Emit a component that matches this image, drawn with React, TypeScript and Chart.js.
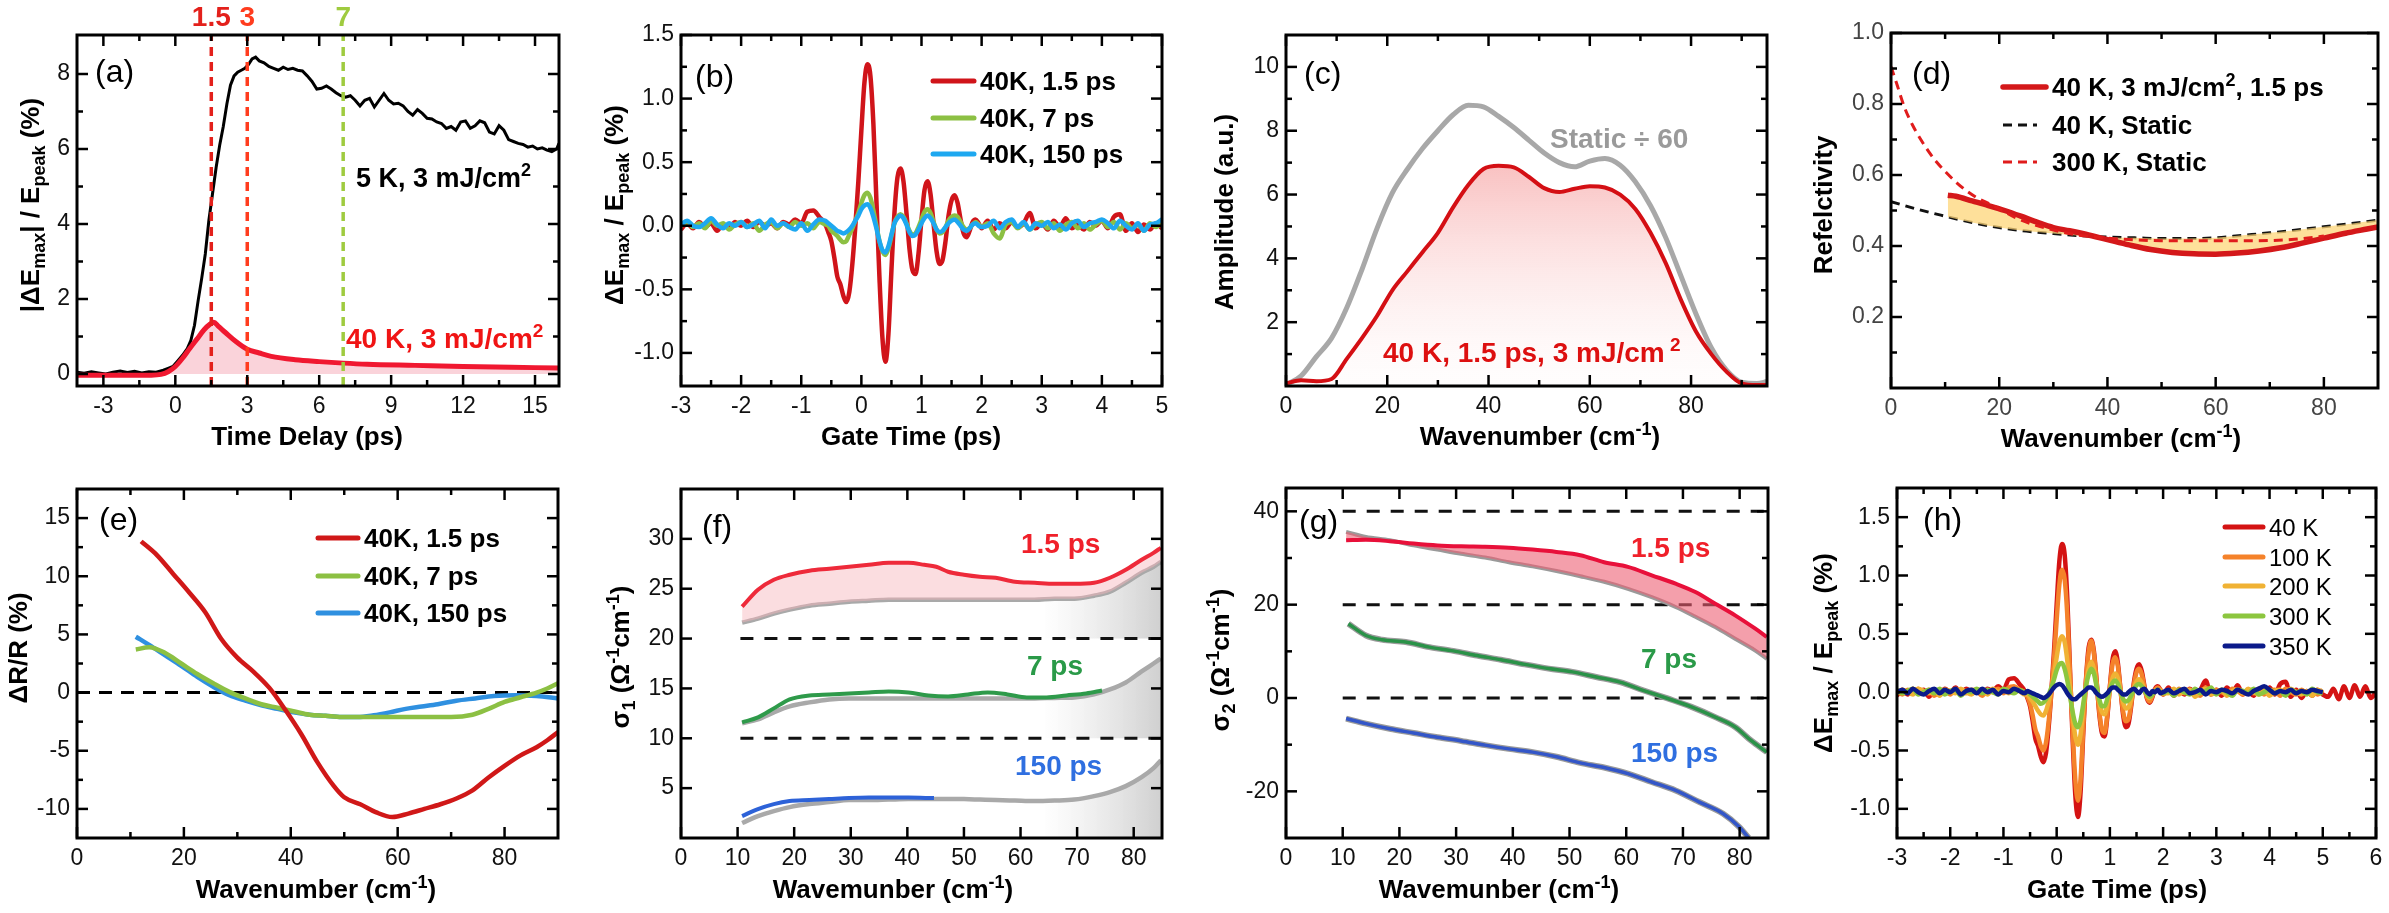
import React, { useEffect, useRef } from 'react';
import { Chart, registerables } from 'chart.js';
Chart.register(...registerables);

const W = 2389;
const H = 913;
const FONT = '"Liberation Sans", Arial, Helvetica, sans-serif';

// ---------------- (a) pump-probe dynamics ----------------
const A_DELAYS = [1.5, 3, 7];
const A_DELAY_LABELS = ['1.5', '3', '7'];
const A_5K_T = [
  -4.1, -3.8, -3.5, -3.2, -2.9, -2.6, -2.3, -2.0, -1.7, -1.4,
  -1.1, -0.8, -0.5, -0.3, -0.1, 0.1, 0.3, 0.5, 0.65, 0.8,
  0.95, 1.1, 1.25, 1.4, 1.55, 1.7, 1.85, 2.0, 2.15, 2.3,
  2.45, 2.6, 2.75, 2.9, 3.05, 3.2, 3.35, 3.5, 3.7, 3.9,
  4.1, 4.3, 4.5, 4.7, 4.9, 5.1, 5.3, 5.5, 5.7, 5.9,
  6.1, 6.3, 6.5, 6.7, 6.9, 7.1, 7.3, 7.5, 7.7, 7.9,
  8.1, 8.3, 8.5, 8.7, 8.9, 9.1, 9.3, 9.5, 9.7, 9.9,
  10.1, 10.3, 10.5, 10.7, 10.9, 11.1, 11.3, 11.5, 11.7, 11.9,
  12.1, 12.3, 12.5, 12.7, 12.9, 13.1, 13.3, 13.5, 13.7, 13.9,
  14.1, 14.3, 14.5, 14.7, 14.9, 15.1, 15.3, 15.5, 15.7, 15.9, 16.0,
];
const A_5K = [
  0.05, 0.02, 0.06, 0.03, 0.0, 0.05, 0.08, 0.04, 0.07, 0.03,
  0.06, 0.05, 0.1, 0.15, 0.2, 0.35, 0.5, 0.68, 0.9, 1.3,
  1.95, 2.55, 3.2, 4.1, 4.8, 5.5, 6.1, 6.6, 7.2, 7.7,
  7.95, 8.05, 8.1, 8.15, 8.25, 8.4, 8.45, 8.35, 8.3, 8.2,
  8.15, 8.1, 8.18, 8.12, 8.15, 8.1, 8.08, 7.95, 7.8, 7.6,
  7.62, 7.68, 7.6, 7.5, 7.42, 7.38, 7.42, 7.3, 7.15, 7.3,
  7.35, 7.12, 7.3, 7.48, 7.3, 7.2, 7.22, 7.15, 7.0, 6.9,
  7.05, 6.95, 6.82, 6.8, 6.72, 6.68, 6.55, 6.6, 6.5, 6.72,
  6.75, 6.55, 6.62, 6.75, 6.7, 6.45, 6.4, 6.62, 6.5, 6.25,
  6.2, 6.15, 6.12, 6.05, 6.08, 6.0, 6.03, 5.97, 5.93, 6.0, 6.15,
];
const A_40K_T = [-4.1, -3, -2, -1, -0.6, -0.3, 0, 0.3, 0.6, 0.9, 1.2, 1.45, 1.6, 1.8, 2.1, 2.5, 3, 3.5, 4, 5, 6, 7, 8, 10, 12, 14, 16];
const A_40K = [-0.03, -0.03, -0.03, -0.03, -0.01, 0.06, 0.2, 0.42, 0.68, 0.93, 1.18, 1.33, 1.38, 1.27, 1.1, 0.88, 0.66, 0.56, 0.47, 0.38, 0.33, 0.29, 0.26, 0.23, 0.2, 0.18, 0.16];

// ---------------- (b) & (h) gate-time traces ----------------
const OSC_T_PRE = [-3.0, -2.9, -2.8, -2.7, -2.6, -2.5, -2.4, -2.3, -2.2, -2.1, -2.0, -1.9, -1.8, -1.7, -1.6, -1.5, -1.4, -1.3, -1.2, -1.1, -1.0, -0.9, -0.8, -0.7, -0.6];
const OSC_T_MID = [-0.55, -0.5, -0.45, -0.4, -0.35, -0.3, -0.25, -0.2, -0.15, -0.1, -0.05, 0, 0.05, 0.1, 0.15, 0.2, 0.25, 0.3, 0.35, 0.4, 0.45, 0.5, 0.55, 0.6, 0.65, 0.7, 0.75, 0.8, 0.85, 0.9, 0.95, 1.0, 1.05, 1.1, 1.15, 1.2, 1.25, 1.3, 1.35, 1.4, 1.45, 1.5, 1.55, 1.6, 1.65, 1.7, 1.75, 1.8, 1.85, 1.9, 1.95, 2.0];
const OSC_T_POST = [2.1, 2.2, 2.3, 2.4, 2.5, 2.6, 2.7, 2.8, 2.9, 3.0, 3.1, 3.2, 3.3, 3.4, 3.5, 3.6, 3.7, 3.8, 3.9, 4.0, 4.1, 4.2, 4.3, 4.4, 4.5, 4.6, 4.7, 4.8, 4.9, 5.0];
const OSC_T = [...OSC_T_PRE, ...OSC_T_MID, ...OSC_T_POST];

const B_40K = [
  -0.03, 0.02, -0.02, 0.03, -0.01, 0.02, -0.04, 0.01, -0.02, 0.03, 0.0, 0.04, -0.01, 0.03, 0.0, 0.02, -0.02, 0.03, 0.01, 0.05, 0.02, 0.11, 0.12, 0.07, 0.01,
  -0.05, -0.12, -0.25, -0.40, -0.46, -0.55, -0.60, -0.52, -0.30, 0.0, 0.35, 0.75, 1.12, 1.27, 1.18, 0.80, 0.20, -0.40, -0.88, -1.07, -0.85, -0.35, 0.10, 0.38, 0.45, 0.35, 0.10, -0.18, -0.35, -0.38, -0.22, 0.05, 0.28, 0.35, 0.25, 0.02, -0.20, -0.30, -0.27, -0.12, 0.08, 0.20, 0.24, 0.18, 0.05, -0.06, -0.09, -0.04, 0.03, 0.05, 0.02, -0.02,
  0.04, -0.03, 0.02, -0.02, 0.03, -0.01, 0.02, 0.10, -0.02, 0.02, -0.03, 0.04, -0.01, 0.06, -0.02, 0.01, -0.03, 0.03, 0.0, 0.04, -0.02, 0.07, 0.09, -0.04, 0.02, -0.05, 0.01, -0.03, 0.02, -0.02,
];
const B_7PS = [
  0.0, 0.03, -0.01, 0.02, -0.02, 0.04, 0.0, 0.02, -0.03, 0.01, 0.03, -0.01, 0.02, -0.04, 0.01, 0.03, -0.02, 0.02, -0.01, 0.03, 0.0, 0.02, -0.02, 0.03, 0.01,
  0.0, -0.04, -0.06, -0.08, -0.11, -0.13, -0.12, -0.07, -0.02, 0.04, 0.10, 0.18, 0.24, 0.26, 0.22, 0.12, 0.0, -0.12, -0.20, -0.23, -0.18, -0.08, 0.02, 0.07, 0.09, 0.07, 0.02, -0.04, -0.07, -0.06, -0.01, 0.05, 0.11, 0.13, 0.10, 0.03, -0.03, -0.06, -0.05, -0.01, 0.04, 0.07, 0.08, 0.07, 0.03, -0.01, -0.03, -0.02, 0.01, 0.03, 0.01, -0.01,
  0.02, -0.06, -0.10, 0.01, 0.03, -0.02, 0.02, -0.03, 0.01, 0.03, -0.02, 0.02, -0.04, 0.01, 0.03, -0.02, 0.02, -0.03, 0.01, 0.04, -0.01, 0.03, -0.03, 0.02, -0.02, 0.01, -0.04, 0.02, -0.01, 0.03,
];
const B_150PS = [
  0.01, 0.04, 0.0, -0.01, 0.02, 0.06, 0.01, -0.02, 0.02, 0.0, 0.03, -0.01, 0.01, 0.04, -0.02, 0.05, 0.0, 0.02, -0.01, -0.03, 0.02, -0.04, 0.01, 0.05, 0.04,
  0.02, 0.0, -0.02, -0.04, -0.05, -0.06, -0.05, -0.03, 0.0, 0.04, 0.08, 0.13, 0.16, 0.17, 0.14, 0.07, -0.02, -0.12, -0.19, -0.21, -0.16, -0.07, 0.02, 0.06, 0.08, 0.06, 0.01, -0.05, -0.08, -0.07, -0.03, 0.02, 0.06, 0.08, 0.06, 0.02, -0.03, -0.05, -0.04, -0.01, 0.02, 0.04, 0.05, 0.03, 0.0, -0.03, -0.04, -0.02, 0.01, 0.02, 0.0, -0.01,
  0.0, 0.04, -0.02, 0.03, 0.05, -0.01, 0.03, -0.03, 0.02, 0.0, 0.03, -0.02, 0.01, -0.03, 0.02, 0.04, -0.01, 0.02, 0.03, 0.05, 0.02, -0.02, 0.04, 0.0, -0.03, 0.02, -0.04, 0.01, 0.02, 0.05,
];
const H_40K_TAIL_T = [5.1, 5.2, 5.3, 5.4, 5.5, 5.6, 5.7, 5.8, 5.9, 6.0];
const H_40K_TAIL = [-0.04, 0.03, -0.06, 0.05, -0.05, 0.06, -0.04, 0.05, -0.05, 0.0];
const H_100K = [
  0.01, -0.02, 0.02, 0.0, 0.03, -0.01, 0.02, -0.03, 0.01, 0.02, -0.02, 0.03, 0.0, -0.01, 0.02, 0.01, -0.03, 0.02, 0.0, 0.03, -0.01, 0.04, 0.05, 0.02, 0.0,
  -0.04, -0.10, -0.20, -0.32, -0.38, -0.46, -0.50, -0.43, -0.25, 0.0, 0.28, 0.62, 0.92, 1.05, 0.97, 0.66, 0.16, -0.33, -0.75, -0.93, -0.74, -0.30, 0.09, 0.34, 0.44, 0.33, 0.09, -0.16, -0.32, -0.35, -0.20, 0.04, 0.24, 0.30, 0.22, 0.02, -0.17, -0.25, -0.23, -0.10, 0.06, 0.17, 0.20, 0.15, 0.04, -0.05, -0.08, -0.03, 0.02, 0.04, 0.02, -0.02,
  0.02, -0.02, 0.03, -0.01, 0.02, 0.0, -0.03, 0.04, -0.01, 0.02, 0.0, -0.02, 0.03, 0.01, -0.02, 0.02, -0.01, 0.03, -0.02, 0.01, 0.02, -0.03, 0.03, 0.0, -0.02, 0.02, -0.01, 0.01, -0.02, 0.02,
];
const H_200K = [
  -0.01, 0.02, 0.0, -0.02, 0.03, 0.01, -0.01, 0.02, -0.03, 0.02, 0.01, -0.01, 0.03, 0.0, -0.02, 0.02, 0.01, -0.02, 0.03, 0.0, 0.02, -0.01, 0.03, 0.01, -0.02,
  -0.02, -0.05, -0.08, -0.12, -0.16, -0.19, -0.20, -0.16, -0.08, 0.02, 0.15, 0.30, 0.43, 0.48, 0.43, 0.27, 0.04, -0.20, -0.38, -0.45, -0.36, -0.14, 0.06, 0.20, 0.26, 0.20, 0.06, -0.08, -0.17, -0.19, -0.11, 0.02, 0.12, 0.16, 0.12, 0.01, -0.09, -0.14, -0.13, -0.06, 0.03, 0.09, 0.11, 0.08, 0.02, -0.03, -0.05, -0.02, 0.01, 0.02, 0.01, -0.01,
  -0.01, 0.03, -0.02, 0.01, 0.02, -0.04, 0.01, 0.03, -0.02, 0.0, 0.02, -0.03, 0.01, 0.02, -0.01, 0.03, 0.0, -0.02, 0.02, -0.03, 0.01, 0.02, -0.01, 0.03, 0.0, -0.02, 0.01, -0.03, 0.02, 0.0,
];
const H_300K = [
  0.02, -0.01, 0.01, 0.03, -0.02, 0.0, 0.02, -0.01, 0.03, -0.02, 0.01, 0.02, -0.03, 0.01, 0.0, 0.03, -0.01, 0.02, 0.0, -0.02, 0.03, 0.01, -0.01, 0.02, 0.0,
  0.0, -0.02, -0.04, -0.06, -0.08, -0.10, -0.09, -0.06, -0.02, 0.04, 0.11, 0.19, 0.24, 0.25, 0.20, 0.10, -0.03, -0.17, -0.27, -0.30, -0.24, -0.10, 0.05, 0.15, 0.20, 0.16, 0.05, -0.06, -0.12, -0.12, -0.06, 0.02, 0.08, 0.10, 0.07, 0.0, -0.06, -0.08, -0.07, -0.03, 0.02, 0.06, 0.07, 0.05, 0.01, -0.02, -0.04, -0.02, 0.01, 0.02, 0.0, -0.01,
  0.01, -0.03, 0.02, 0.0, -0.02, 0.03, -0.01, 0.01, 0.04, -0.02, 0.02, 0.0, -0.03, 0.02, 0.01, -0.01, 0.03, -0.02, 0.0, 0.02, -0.01, 0.01, -0.03, 0.02, 0.0, 0.01, -0.02, 0.03, 0.0, -0.01,
];
const H_350K = [
  0.0, 0.02, -0.01, 0.03, 0.0, -0.02, 0.01, 0.03, -0.01, 0.02, 0.0, 0.03, -0.02, 0.01, 0.02, -0.01, 0.03, 0.0, 0.02, -0.02, 0.01, 0.0, 0.03, 0.01, -0.01,
  0.01, 0.0, -0.01, -0.02, -0.03, -0.04, -0.05, -0.04, -0.02, 0.01, 0.04, 0.06, 0.07, 0.06, 0.03, -0.01, -0.04, -0.06, -0.06, -0.04, -0.02, 0.0, 0.02, 0.04, 0.04, 0.02, -0.01, -0.03, -0.04, -0.03, -0.01, 0.02, 0.04, 0.04, 0.02, 0.0, -0.02, -0.02, 0.0, 0.02, 0.03, 0.01, -0.01, 0.02, 0.03, 0.0, -0.02, 0.01, 0.0, 0.02, -0.01, 0.0,
  0.02, -0.01, 0.01, 0.03, -0.01, 0.0, 0.02, -0.02, 0.01, 0.0, 0.02, 0.01, -0.01, 0.02, 0.0, -0.02, 0.01, 0.03, 0.05, 0.02, -0.01, 0.01, 0.0, 0.02, -0.01, 0.01, 0.0, 0.02, 0.01, 0.0,
];

// ---------------- (c) spectra ----------------
const C_NU = [0, 3, 6, 9, 12, 15, 18, 21, 24, 27, 30, 33, 36, 39, 42, 45, 48, 51, 54, 57, 60, 63, 66, 69, 72, 75, 78, 81, 84, 87, 90, 93, 95];
const C_STATIC = [0.03, 0.32, 0.92, 1.5, 2.45, 3.65, 4.95, 6.05, 6.8, 7.45, 8.0, 8.5, 8.8, 8.75, 8.45, 8.1, 7.7, 7.3, 7.0, 6.87, 7.05, 7.13, 6.92, 6.4, 5.65, 4.65, 3.45, 2.25, 1.2, 0.5, 0.12, 0.08, 0.14];
const C_PUMPED = [0.08, 0.18, 0.15, 0.22, 0.85, 1.5, 2.2, 3.0, 3.6, 4.2, 4.8, 5.6, 6.3, 6.8, 6.9, 6.85, 6.55, 6.2, 6.08, 6.18, 6.26, 6.22, 6.0, 5.55, 4.8, 3.85, 2.7, 1.7, 1.0, 0.45, 0.08, 0.03, 0.03];

// ---------------- (d) reflectivity ----------------
const D_300K_NU = [0, 1, 2.5, 4, 5.5, 7, 8.5, 10, 12, 14, 16, 18, 20, 23, 26, 30, 34, 38, 44, 50, 58, 66, 74, 80];
const D_300K = [0.905, 0.86, 0.79, 0.74, 0.70, 0.665, 0.635, 0.61, 0.58, 0.555, 0.535, 0.52, 0.505, 0.48, 0.462, 0.445, 0.432, 0.425, 0.418, 0.415, 0.415, 0.415, 0.418, 0.428];
const D_40K_NU = [0, 5, 10, 15, 20, 25, 30, 35, 40, 45, 50, 55, 60, 65, 70, 75, 80, 85, 90];
const D_40K = [0.525, 0.503, 0.484, 0.466, 0.452, 0.442, 0.435, 0.429, 0.425, 0.423, 0.421, 0.421, 0.423, 0.43, 0.437, 0.445, 0.454, 0.463, 0.473];
const D_PUMP_NU = [10.5, 12, 15, 18, 21, 24, 27, 30, 33, 36, 40, 44, 48, 52, 56, 60, 64, 68, 72, 76, 80, 84, 88, 90];
const D_PUMP = [0.543, 0.54, 0.527, 0.514, 0.5, 0.484, 0.467, 0.452, 0.443, 0.433, 0.418, 0.403, 0.39, 0.382, 0.378, 0.377, 0.38, 0.386, 0.395, 0.408, 0.422, 0.436, 0.448, 0.454];

// ---------------- (e) dR/R ----------------
const E_15_NU = [12, 15, 18, 21, 24, 27, 30, 33, 36, 39, 42, 45, 48, 50, 53, 56, 59, 62, 65, 68, 71, 74, 77, 80, 83, 86, 88, 90];
const E_15 = [13.0, 11.8, 10.2, 8.6, 6.9, 4.6, 3.0, 1.8, 0.4, -1.5, -3.6, -6.0, -8.0, -9.0, -9.6, -10.3, -10.7, -10.4, -10.0, -9.6, -9.1, -8.4, -7.3, -6.3, -5.4, -4.7, -4.1, -3.4];
const E_7_NU = [11, 13.5, 16.5, 19.5, 22.5, 25.5, 28.5, 31.5, 34.5, 37.5, 40.5, 43.5, 46.5, 49.5, 55, 60, 65, 70, 74, 77, 80, 83, 86, 88, 90];
const E_7 = [3.7, 3.9, 3.4, 2.5, 1.6, 0.8, 0.06, -0.5, -1.0, -1.3, -1.6, -1.9, -2.0, -2.1, -2.1, -2.1, -2.1, -2.1, -1.9, -1.4, -0.8, -0.4, 0.0, 0.35, 0.8];
const E_150_NU = [11, 13.5, 16.5, 19.5, 22.5, 25.5, 28.5, 31.5, 34.5, 37.5, 40.5, 43.5, 46.5, 49.5, 52.5, 55.5, 58.5, 61.5, 64.5, 67.5, 71, 74.5, 78, 82, 86, 90];
const E_150 = [4.8, 4.1, 3.2, 2.3, 1.35, 0.5, -0.23, -0.7, -1.1, -1.4, -1.7, -1.9, -2.0, -2.1, -2.1, -1.95, -1.7, -1.4, -1.2, -1.0, -0.7, -0.5, -0.3, -0.23, -0.3, -0.5];

// ---------------- (f) sigma1 ----------------
const F_NU = [10.8, 13.6, 16.4, 19.2, 22.7, 26.2, 29.7, 33.2, 36.7, 40.2, 43, 45.1, 47.2, 50, 52.8, 55.6, 59, 62.5, 66, 69.5, 73, 75.8, 78.6, 81.4, 83.5, 84.8];
const F_15 = [23.2, 24.9, 25.9, 26.4, 26.8, 27.0, 27.2, 27.4, 27.6, 27.6, 27.4, 27.2, 26.7, 26.4, 26.2, 26.1, 25.7, 25.6, 25.5, 25.5, 25.6, 26.1, 26.9, 27.9, 28.6, 29.1];
const F_STATIC_HI = [21.6, 22.0, 22.5, 22.9, 23.3, 23.5, 23.7, 23.8, 23.9, 23.9, 23.9, 23.9, 23.9, 23.9, 23.9, 23.9, 23.9, 23.9, 24.0, 24.0, 24.3, 24.7, 25.6, 26.6, 27.2, 27.7];
const F_STATIC_MID = [11.5, 11.9, 12.6, 13.2, 13.6, 13.9, 14.0, 14.0, 14.0, 14.0, 14.0, 14.0, 14.0, 14.0, 14.0, 14.0, 14.0, 14.0, 14.05, 14.1, 14.4, 14.9, 15.6, 16.7, 17.5, 18.0];
const F_STATIC_LO = [1.5, 2.2, 2.7, 3.1, 3.4, 3.6, 3.8, 3.8, 3.85, 3.9, 3.9, 3.9, 3.9, 3.9, 3.85, 3.8, 3.75, 3.7, 3.75, 3.85, 4.2, 4.6, 5.2, 6.1, 7.0, 7.8];
const F_7_NU = [10.8, 13.6, 16.4, 19.2, 22.7, 26.2, 29.7, 33.2, 36.7, 40.2, 43.7, 47.2, 50.7, 54.2, 57.7, 61.1, 64.6, 68.1, 71.6, 74.4];
const F_7 = [11.6, 12.1, 13.0, 13.9, 14.3, 14.4, 14.5, 14.6, 14.7, 14.6, 14.3, 14.2, 14.4, 14.6, 14.4, 14.1, 14.1, 14.3, 14.5, 14.8];
const F_150_NU = [10.8, 13.6, 16.4, 19.2, 22.7, 26.2, 29.7, 33.2, 36.7, 40.2, 44.7];
const F_150 = [2.2, 2.9, 3.4, 3.7, 3.8, 3.9, 4.0, 4.05, 4.05, 4.05, 4.0];
const F_OFFSETS = [20, 10];

// ---------------- (g) sigma2 ----------------
const G_NU = [10.6, 14.1, 18.3, 22.5, 26.7, 30.9, 35.1, 39.3, 43.5, 47.7, 51.9, 56.1, 60.3, 64.5, 68.7, 72.2, 75.7, 79.2, 82.7, 84.8];
const G_15 = [33.8, 33.9, 33.6, 33.1, 32.7, 32.5, 32.4, 32.2, 31.8, 31.3, 30.6, 29.1, 28.1, 26.3, 24.5, 22.7, 20.2, 17.7, 14.9, 13.1];
const G_STATIC_HI = [35.6, 34.5, 33.8, 32.7, 31.8, 30.9, 30.1, 29.1, 28.2, 27.2, 26.1, 24.9, 23.4, 21.6, 19.5, 17.4, 15.2, 12.7, 10.2, 8.4];
const G_7_NU = [11, 14.1, 16.9, 21.1, 25.3, 29.5, 33.7, 37.9, 42.1, 46.3, 50.5, 54.7, 58.9, 63.1, 67.3, 71.5, 75.7, 79.2, 82, 84.8];
const G_7 = [15.9, 13.4, 12.5, 12.0, 10.9, 10.1, 9.1, 8.2, 7.2, 6.3, 5.6, 4.5, 3.4, 1.6, -0.1, -1.9, -4.1, -6.2, -9.1, -11.6];
const G_150_NU = [10.6, 14.1, 18.3, 22.5, 26.7, 30.9, 35.1, 39.3, 43.5, 47.7, 51.9, 56.1, 60.3, 64.5, 68.7, 72.9, 77.1, 79.9, 81.6];
const G_150 = [-4.4, -5.5, -6.6, -7.5, -8.4, -9.2, -10.1, -10.9, -11.6, -12.6, -13.9, -14.9, -16.2, -18.0, -19.8, -22.3, -24.8, -27.6, -30];
const G_OFFSETS = [40, 20, 0];

// ---------------- helpers ----------------
type Seg = [string, number];
const N = 0;
const SUB = 1;
const SUP = 2;

function segFont(size: number, bold: boolean, kind: number) {
  const s = kind === N ? size : Math.round(size * 0.68);
  return `${bold ? 'bold ' : ''}${s}px ${FONT}`;
}
function richWidth(ctx: CanvasRenderingContext2D, segs: Seg[], size: number, bold: boolean) {
  let w = 0;
  for (const [t, k] of segs) {
    ctx.font = segFont(size, bold, k);
    w += ctx.measureText(t).width;
  }
  return w;
}
function drawRich(ctx: CanvasRenderingContext2D, segs: Seg[], x: number, y: number, size: number, bold: boolean, color: string, align: string, rot = false) {
  ctx.save();
  ctx.translate(x, y);
  if (rot) ctx.rotate(-Math.PI / 2);
  const w = richWidth(ctx, segs, size, bold);
  let cx = align === 'center' ? -w / 2 : align === 'right' ? -w : 0;
  ctx.fillStyle = color;
  ctx.textAlign = 'left';
  ctx.textBaseline = 'alphabetic';
  const base = size * 0.36;
  for (const [t, k] of segs) {
    ctx.font = segFont(size, bold, k);
    const dy = k === SUB ? size * 0.22 : k === SUP ? -size * 0.38 : 0;
    ctx.fillText(t, cx, base + dy);
    cx += ctx.measureText(t).width;
  }
  ctx.restore();
}

function line(xs: number[], ys: number[], color: string, width: number, extra: any = {}) {
  return {
    data: xs.map((x, i) => ({ x, y: ys[i] })),
    borderColor: color,
    borderWidth: width,
    pointRadius: 0,
    fill: false,
    cubicInterpolationMode: 'monotone',
    ...extra,
  };
}
function straight(xs: number[], ys: number[], color: string, width: number, dash: number[]) {
  return line(xs, ys, color, width, { borderDash: dash, tension: 0, cubicInterpolationMode: 'default' });
}
function range(from: number, to: number, step: number) {
  const out: number[] = [];
  for (let v = from; v <= to + 1e-9; v += step) out.push(Math.round(v * 1000) / 1000);
  return out;
}

const WAVENUMBER: Seg[] = [['Wavenumber (cm', N], ['-1', SUP], [')', N]];
const WAVEMUNBER: Seg[] = [['Wavemunber (cm', N], ['-1', SUP], [')', N]];
const DE_TITLE: Seg[] = [['ΔE', N], ['max', SUB], [' / E', N], ['peak', SUB], [' (%)', N]];

function grayFade(x0: number) {
  return (c: any) => {
    const ch = c.chart;
    const area = ch.chartArea;
    if (!area) return 'rgba(0,0,0,0)';
    const g = ch.ctx.createLinearGradient(ch.scales.x.getPixelForValue(x0), 0, area.right, 0);
    g.addColorStop(0, 'rgba(190,190,190,0)');
    g.addColorStop(1, 'rgba(160,160,160,0.5)');
    return g;
  };
}

function buildSpecs(): any[] {
  const specs: any[] = [];
  const AY: [number, number] = [-0.32, 9.04];
  const delayColors = ['#e3201b', '#ff3c1e', '#9fcb3f'];
  // (a)
  specs.push({
    frame: [77, 35, 559, 386], xr: [-4.1, 16], yr: AY,
    xt: range(-3, 15, 3), xm: range(-1.5, 13.5, 3), yt: range(0, 8, 2), ym: [1, 3, 5, 7],
    xTitle: [['Time Delay (ps)', N]], xTitleAt: [307, 436],
    yTitle: [['|ΔE', N], ['max', SUB], ['| / E', N], ['peak', SUB], [' (%)', N]], yTitleAt: [30, 205],
    tag: '(a)', tagAt: [95, 70],
    datasets: [
      line(A_40K_T, A_40K, 'rgba(0,0,0,0)', 0, { fill: 'origin', backgroundColor: 'rgba(242,150,168,0.42)' }),
      line(A_5K_T, A_5K, '#000000', 3, { tension: 0, cubicInterpolationMode: 'default' }),
      line(A_40K_T, A_40K, '#f01830', 5),
      ...A_DELAYS.map((d, i) => straight([d, d], AY, delayColors[i], 3.5, [9, 6])),
    ],
    notes: [
      { segs: [['5 K, 3 mJ/cm', N], ['2', SUP]], x: 356, y: 177, color: '#000', size: 27, bold: true, align: 'left' },
      { segs: [['40 K, 3 mJ/cm', N], ['2', SUP]], x: 346, y: 338, color: '#f01414', size: 28, bold: true, align: 'left' },
      ...A_DELAYS.map((d, i) => ({ segs: [[A_DELAY_LABELS[i], N]], xData: d, y: 16, color: delayColors[i], size: 28, bold: true, align: 'center' })),
    ],
  });
  // (b)
  const bCols = ['#d0141a', '#8cc043', '#1ea8f0'];
  specs.push({
    frame: [681, 35, 1162, 386], xr: [-3, 5], yr: [-1.26, 1.5],
    xt: range(-3, 5, 1), xm: range(-2.5, 4.5, 1), yt: range(-1, 1.5, 0.5), ym: range(-0.75, 1.25, 0.5),
    yfmt: (v: number) => v.toFixed(1),
    xTitle: [['Gate Time (ps)', N]], xTitleAt: [911, 436],
    yTitle: DE_TITLE, yTitleAt: [614, 205],
    tag: '(b)', tagAt: [695, 75],
    datasets: [
      line(OSC_T, B_40K, bCols[0], 4.5),
      line(OSC_T, B_7PS, bCols[1], 4.5),
      line(OSC_T, B_150PS, bCols[2], 4.5),
    ],
    legend: {
      x0: 931, x1: 974, tx: 980, ys: [81, 118, 154], size: 26, bold: true,
      items: [
        { color: bCols[0], width: 5, segs: [['40K, 1.5 ps', N]] },
        { color: bCols[1], width: 5, segs: [['40K, 7 ps', N]] },
        { color: bCols[2], width: 5, segs: [['40K, 150 ps', N]] },
      ],
    },
  });
  // (c)
  specs.push({
    frame: [1286, 35, 1767, 386], xr: [0, 95], yr: [0, 11],
    xt: range(0, 80, 20), xm: range(10, 90, 20), yt: range(2, 10, 2), ym: range(1, 9, 2),
    xTitle: WAVENUMBER, xTitleAt: [1540, 436],
    yTitle: [['Amplitude (a.u.)', N]], yTitleAt: [1224, 212],
    tag: '(c)', tagAt: [1304, 72],
    datasets: [
      line(C_NU, C_STATIC, '#a8a8a8', 5),
      line(C_NU, C_PUMPED, '#d40f14', 4, {
        fill: 'origin',
        backgroundColor: (c: any) => {
          const ch = c.chart;
          const area = ch.chartArea;
          if (!area) return 'rgba(0,0,0,0)';
          const g = ch.ctx.createLinearGradient(0, ch.scales.y.getPixelForValue(7), 0, area.bottom);
          g.addColorStop(0, 'rgba(245,150,150,0.6)');
          g.addColorStop(1, 'rgba(255,245,245,0.15)');
          return g;
        },
      }),
    ],
    notes: [
      { segs: [['Static ÷ 60', N]], x: 1550, y: 138, color: '#9a9a9a', size: 28, bold: true, align: 'left' },
      { segs: [['40 K, 1.5 ps, 3 mJ/cm', N], [' 2', SUP]], x: 1383, y: 352, color: '#dd1010', size: 28, bold: true, align: 'left' },
    ],
  });
  // (d)
  specs.push({
    frame: [1891, 33, 2378, 388], xr: [0, 90], yr: [0, 1],
    xt: range(0, 80, 20), xm: range(10, 70, 20), yt: range(0.2, 1.0, 0.2), ym: range(0.1, 0.9, 0.2),
    yfmt: (v: number) => v.toFixed(1), tickColor: '#444',
    xTitle: WAVENUMBER, xTitleAt: [2121, 438],
    yTitle: [['Refelctivity', N]], yTitleAt: [1823, 205],
    tag: '(d)', tagAt: [1912, 72],
    datasets: [
      line(D_40K_NU, D_40K, '#111111', 3, { borderDash: [9, 6] }),
      line(D_PUMP_NU, D_PUMP, '#d4181a', 5.5, { fill: 0, backgroundColor: 'rgba(253,214,120,0.75)' }),
      line(D_300K_NU, D_300K, '#e01c1c', 3, { borderDash: [9, 6] }),
    ],
    legend: {
      x0: 2001, x1: 2046, tx: 2052, ys: [87, 125, 162], size: 26, bold: true,
      items: [
        { color: '#d4181a', width: 5.5, segs: [['40 K, 3 mJ/cm', N], ['2', SUP], [', 1.5 ps', N]] },
        { color: '#111111', width: 3, dash: [9, 6], segs: [['40 K, Static', N]] },
        { color: '#e01c1c', width: 3, dash: [9, 6], segs: [['300 K, Static', N]] },
      ],
    },
  });
  // (e)
  const eCols = ['#d01818', '#8cc043', '#2f90e0'];
  specs.push({
    frame: [77, 489, 558, 838], xr: [0, 90], yr: [-12.5, 17.5],
    xt: range(0, 80, 20), xm: range(10, 70, 20), yt: range(-10, 15, 5), ym: range(-7.5, 12.5, 5),
    xTitle: WAVENUMBER, xTitleAt: [316, 889],
    yTitle: [['ΔR/R (%)', N]], yTitleAt: [18, 648],
    tag: '(e)', tagAt: [99, 518],
    datasets: [
      straight([0, 90], [0, 0], '#000000', 3, [13, 9]),
      line(E_150_NU, E_150, eCols[2], 4.5),
      line(E_7_NU, E_7, eCols[1], 4.5),
      line(E_15_NU, E_15, eCols[0], 4.5),
    ],
    legend: {
      x0: 316, x1: 358, tx: 364, ys: [538, 576, 613], size: 26, bold: true,
      items: [
        { color: eCols[0], width: 5, segs: [['40K, 1.5 ps', N]] },
        { color: eCols[1], width: 5, segs: [['40K, 7 ps', N]] },
        { color: eCols[2], width: 5, segs: [['40K, 150 ps', N]] },
      ],
    },
  });
  // (f)
  specs.push({
    frame: [681, 489, 1162, 838], xr: [0, 85], yr: [0, 35],
    xt: range(0, 80, 10), xm: [], yt: range(5, 30, 5), ym: [],
    xTitle: WAVEMUNBER, xTitleAt: [893, 889],
    yTitle: [['σ', N], ['1', SUB], [' (Ω', N], ['-1', SUP], ['cm', N], ['-1', SUP], [')', N]], yTitleAt: [620, 657],
    tag: '(f)', tagAt: [702, 525],
    datasets: [
      line(F_NU, F_STATIC_HI, '#a9a9a9', 4.5, { fill: { value: F_OFFSETS[0] }, backgroundColor: grayFade(64) }),
      line(F_NU, F_15, '#ee2a3a', 4, { fill: 0, backgroundColor: 'rgba(246,180,186,0.45)' }),
      line(F_NU, F_STATIC_MID, '#a9a9a9', 4.5, { fill: { value: F_OFFSETS[1] }, backgroundColor: grayFade(64) }),
      line(F_7_NU, F_7, '#2e9a4a', 4),
      line(F_NU, F_STATIC_LO, '#a9a9a9', 4.5, { fill: { value: 0 }, backgroundColor: grayFade(64) }),
      line(F_150_NU, F_150, '#2d62d8', 4),
      ...F_OFFSETS.map((o) => straight([10.5, 85], [o, o], '#111111', 3, [13, 11])),
    ],
    notes: [
      { segs: [['1.5 ps', N]], x: 1021, y: 543, color: '#f0202a', size: 28, bold: true, align: 'left' },
      { segs: [['7 ps', N]], x: 1027, y: 665, color: '#2a9a48', size: 28, bold: true, align: 'left' },
      { segs: [['150 ps', N]], x: 1015, y: 765, color: '#2f6fe0', size: 28, bold: true, align: 'left' },
    ],
  });
  // (g)
  specs.push({
    frame: [1286, 488, 1768, 838], xr: [0, 85], yr: [-30, 45],
    xt: range(0, 80, 10), xm: [], yt: range(-20, 40, 20), ym: range(-10, 30, 20),
    xTitle: WAVEMUNBER, xTitleAt: [1499, 889],
    yTitle: [['σ', N], ['2', SUB], [' (Ω', N], ['-1', SUP], ['cm', N], ['-1', SUP], [')', N]], yTitleAt: [1220, 660],
    tag: '(g)', tagAt: [1299, 520],
    datasets: [
      ...G_OFFSETS.map((o) => straight([10, 85], [o, o], '#111111', 3, [13, 11])),
      line(G_NU, G_STATIC_HI, '#9a9a9a', 4),
      line(G_NU, G_15, '#e8103a', 4, { fill: 3, backgroundColor: 'rgba(236,95,115,0.6)' }),
      line(G_7_NU, G_7, '#9a9a9a', 6),
      line(G_7_NU, G_7, '#2a9248', 3.5),
      line(G_150_NU, G_150, '#9a9a9a', 6),
      line(G_150_NU, G_150, '#3356c8', 3.5),
    ],
    notes: [
      { segs: [['1.5 ps', N]], x: 1631, y: 547, color: '#f0202a', size: 28, bold: true, align: 'left' },
      { segs: [['7 ps', N]], x: 1641, y: 658, color: '#2a9a48', size: 28, bold: true, align: 'left' },
      { segs: [['150 ps', N]], x: 1631, y: 752, color: '#2f6fe0', size: 28, bold: true, align: 'left' },
    ],
  });
  // (h)
  const hCols = ['#d41313', '#f5822a', '#f0b234', '#8cc63f', '#0b1a8a'];
  specs.push({
    frame: [1897, 488, 2376, 838], xr: [-3, 6], yr: [-1.25, 1.75],
    xt: range(-3, 6, 1), xm: range(-2.5, 5.5, 1), yt: range(-1, 1.5, 0.5), ym: range(-0.75, 1.25, 0.5),
    yfmt: (v: number) => v.toFixed(1),
    xTitle: [['Gate Time (ps)', N]], xTitleAt: [2117, 889],
    yTitle: DE_TITLE, yTitleAt: [1823, 653],
    tag: '(h)', tagAt: [1923, 518],
    datasets: [
      line([...OSC_T, ...H_40K_TAIL_T], [...B_40K, ...H_40K_TAIL], hCols[0], 4.5),
      line(OSC_T, H_100K, hCols[1], 4.5),
      line(OSC_T, H_200K, hCols[2], 4.5),
      line(OSC_T, H_300K, hCols[3], 4.5),
      line(OSC_T, H_350K, hCols[4], 4.5),
    ],
    legend: {
      x0: 2223, x1: 2263, tx: 2269, ys: [527, 557, 586, 616, 646], size: 24, bold: false,
      items: ['40 K', '100 K', '200 K', '300 K', '350 K'].map((t, i) => ({ color: hCols[i], width: 5, segs: [[t, N]] })),
    },
  });
  // paint order: first listed dataset at the bottom, last on top
  for (const s of specs) {
    const n = s.datasets.length;
    s.datasets.forEach((d: any, i: number) => { d.order = n - i; });
  }
  return specs;
}

function drawDecor(chart: any, s: any) {
  const ctx: CanvasRenderingContext2D = chart.ctx;
  const xs = chart.scales.x;
  const ys = chart.scales.y;
  const [l, t, r, b] = s.frame;
  ctx.save();
  ctx.strokeStyle = '#000';
  ctx.lineCap = 'butt';
  ctx.setLineDash([]);
  const seg = (x1: number, y1: number, x2: number, y2: number) => {
    ctx.beginPath();
    ctx.moveTo(x1, y1);
    ctx.lineTo(x2, y2);
    ctx.stroke();
  };
  ctx.lineWidth = 2.5;
  const tx = (vals: number[], len: number) => {
    for (const v of vals) {
      const p = xs.getPixelForValue(v);
      seg(p, b, p, b - len);
      seg(p, t, p, t + len);
    }
  };
  const ty = (vals: number[], len: number) => {
    for (const v of vals) {
      const p = ys.getPixelForValue(v);
      seg(l, p, l + len, p);
      seg(r, p, r - len, p);
    }
  };
  tx(s.xt, 11);
  tx(s.xm, 6);
  ty(s.yt, 11);
  ty(s.ym, 6);
  ctx.lineWidth = 3;
  ctx.strokeRect(l, t, r - l, b - t);

  const xf = s.xfmt || ((v: number) => String(v));
  const yf = s.yfmt || ((v: number) => String(v));
  ctx.fillStyle = s.tickColor || '#111';
  ctx.font = `23px ${FONT}`;
  ctx.textBaseline = 'middle';
  ctx.textAlign = 'center';
  for (const v of s.xt) ctx.fillText(xf(v), xs.getPixelForValue(v), b + 21);
  ctx.textAlign = 'right';
  for (const v of s.yt) ctx.fillText(yf(v), l - 7, ys.getPixelForValue(v));

  drawRich(ctx, s.xTitle, s.xTitleAt[0], s.xTitleAt[1], 26, true, '#000', 'center');
  drawRich(ctx, s.yTitle, s.yTitleAt[0], s.yTitleAt[1], 26, true, '#000', 'center', true);
  drawRich(ctx, [[s.tag, N]], s.tagAt[0], s.tagAt[1], 32, false, '#000', 'left');

  if (s.legend) {
    const L = s.legend;
    L.items.forEach((it: any, i: number) => {
      const y = L.ys[i];
      ctx.strokeStyle = it.color;
      ctx.lineWidth = it.width;
      ctx.setLineDash(it.dash || []);
      ctx.lineCap = it.dash ? 'butt' : 'round';
      seg(L.x0 + 2, y, it.dash ? L.x0 + 36 : L.x1, y);
      ctx.setLineDash([]);
      drawRich(ctx, it.segs, L.tx, y, L.size, L.bold, '#000', 'left');
    });
  }
  if (s.notes) {
    for (const n of s.notes) {
      const x = n.xData !== undefined ? xs.getPixelForValue(n.xData) : n.x;
      drawRich(ctx, n.segs, x, n.y, n.size, n.bold, n.color, n.align || 'left');
    }
  }
  ctx.restore();
}

function makeChart(canvas: HTMLCanvasElement, s: any) {
  const [l, t, r, b] = s.frame;
  return new Chart(canvas, {
    type: 'line',
    data: { datasets: s.datasets },
    options: {
      responsive: false,
      animation: false,
      events: [],
      layout: { padding: { left: l, top: t, right: W - r, bottom: H - b } },
      scales: {
        x: { type: 'linear', display: false, min: s.xr[0], max: s.xr[1] },
        y: { type: 'linear', display: false, min: s.yr[0], max: s.yr[1] },
      },
      plugins: { legend: { display: false }, tooltip: { enabled: false } },
      elements: { point: { radius: 0 } },
    },
    plugins: [{ id: 'decor', afterDraw: (chart: any) => drawDecor(chart, s) }],
  } as any);
}

export default function App() {
  const refs = useRef<(HTMLCanvasElement | null)[]>([]);
  useEffect(() => {
    const specs = buildSpecs();
    const charts = specs.map((s, i) => makeChart(refs.current[i] as HTMLCanvasElement, s));
    return () => charts.forEach((c) => c.destroy());
  }, []);
  return (
    <div style={{ position: 'absolute', left: 0, top: 0, width: W, height: H, background: '#fff', overflow: 'hidden' }}>
      {[0, 1, 2, 3, 4, 5, 6, 7].map((i) => (
        <canvas
          key={i}
          ref={(el) => { refs.current[i] = el; }}
          width={W}
          height={H}
          style={{ position: 'absolute', left: 0, top: 0, width: W, height: H }}
        />
      ))}
    </div>
  );
}
